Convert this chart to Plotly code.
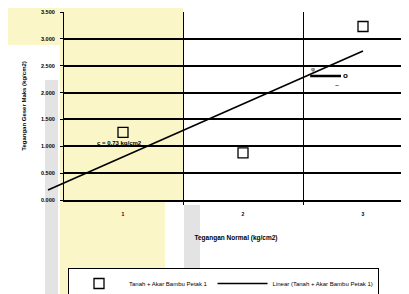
import numpy as np
import plotly.graph_objects as go

# ---- data ----
normal_stress = [1, 2, 3]                 # Tegangan Normal (kg/cm2)
shear_stress = [1.26, 0.876, 3.23]        # Tegangan Geser Maks (kg/cm2)
trend_x_range = [0.375, 3.0]              # trendline extent (backward forecast)
y_ticks = [0, 0.5, 1.0, 1.5, 2.0, 2.5, 3.0, 3.5]
x_ticks = [1, 2, 3]
x_bounds = [1.5, 2.5]
series_name = "Tanah + Akar Bambu Petak 1"

slope, intercept = np.polyfit(normal_stress, shear_stress, 1)
tx = np.array(trend_x_range)
ty = slope * tx + intercept

OFF = 8  # page body margin
W, H = 409 - OFF, 294 - OFF
PLOT_BOTTOM = 200 - OFF
L, R, T = 40 - OFF, 0, 12 - OFF
B = H - PLOT_BOTTOM
PW, PH = W - L - R, H - T - B
AX0 = 63 - OFF  # pixel x of the y axis
px_per_unit = 120.0


def xp(px):
    """reference-image pixel x -> paper fraction"""
    return (px - OFF - L) / PW


def yp(py):
    """reference-image pixel y -> paper fraction"""
    return (PLOT_BOTTOM - (py - OFF)) / PH


main_dom = [(AX0 - L) / PW, 1.0]
x_main_range = [0.5, 0.5 + (W - R - AX0) / px_per_unit]
x2_range = [0.5 - (AX0 - L) / px_per_unit, x_main_range[1]]

font = "Liberation Sans, Arial, sans-serif"

fig = go.Figure()

fig.add_trace(go.Scatter(
    x=normal_stress, y=shear_stress, mode="markers", name=series_name,
    marker=dict(symbol="square-open", size=10, color="black", line=dict(width=1.3)),
    xaxis="x", yaxis="y", cliponaxis=False,
))
fig.add_trace(go.Scatter(
    x=tx, y=ty, mode="lines", name="Linear (" + series_name + ")",
    line=dict(color="black", width=1.6),
    xaxis="x2", yaxis="y2",
))

shapes = []
yellow = "#fbf6c8"
gray = "#e3e3e3"
for (x0, y0, x1, y1, c) in [
    (0, 0, 60, 45, yellow),
    (60, 0, 165, 294, yellow),
    (165, 0, 183, 200, yellow),
    (45, 80, 58, 294, gray),
    (184, 205, 200, 294, gray),
]:
    shapes.append(dict(type="rect", xref="paper", yref="paper",
                       x0=xp(x0), x1=xp(x1), y0=yp(y1), y1=yp(y0),
                       fillcolor=c, line=dict(width=0), layer="below"))

annotations = [
    dict(x=0.97, y=1.06, xref="x", yref="y", text="c = 0.73 kg/cm2", showarrow=False,
         font=dict(family=font, size=6, color="black", weight="bold")),
    dict(x=2.56, y=2.31, xref="x", yref="y", ax=2.85, ay=2.31, axref="x", ayref="y",
         text="o", showarrow=True, arrowhead=0, arrowwidth=2.5, arrowcolor="black",
         standoff=0, font=dict(family=font, size=8, color="black", weight="bold")),
    dict(x=2.58, y=2.43, xref="x", yref="y", text="φ", showarrow=False,
         font=dict(family=font, size=6, color="black")),
    dict(x=2.78, y=2.14, xref="x", yref="y", text="~", showarrow=False,
         font=dict(family=font, size=7, color="black")),
]

fig.update_layout(
    width=W, height=H,
    margin=dict(l=L, r=R, t=T, b=B, autoexpand=False),
    paper_bgcolor="white", plot_bgcolor="rgba(0,0,0,0)",
    font=dict(family=font, color="black"),
    showlegend=True,
    legend=dict(orientation="h", x=xp(68), y=yp(268), xanchor="left", yanchor="top",
                bordercolor="black", borderwidth=1, bgcolor="white",
                itemwidth=50,
                font=dict(family=font, size=6, color="black")),
    xaxis=dict(domain=main_dom, range=x_main_range, tickvals=x_ticks,
               showgrid=False, zeroline=False, showline=True, linecolor="black", linewidth=2,
               ticks="", ticklabelstandoff=8,
               tickfont=dict(family=font, size=5, color="black", weight="bold"),
               minor=dict(tickmode="array", tickvals=x_bounds, showgrid=True,
                          gridcolor="black", gridwidth=1.2, ticks="outside", ticklen=3,
                          tickcolor="black"),
               title=dict(text="Tegangan Normal (kg/cm2)", standoff=19,
                          font=dict(family=font, size=6.5, color="black", weight="bold")),
               anchor="y", automargin=False),
    yaxis=dict(domain=[0, 1], range=[0, 3.5], tickvals=y_ticks[:-1],
               showgrid=True, gridcolor="black", gridwidth=2, zeroline=False,
               showline=False, showticklabels=False, anchor="x", automargin=False),
    xaxis2=dict(domain=[0, 1], range=x2_range, visible=False, anchor="y2"),
    yaxis2=dict(domain=[0, 1], range=[0, 3.5], tickvals=y_ticks, tickformat=".3f",
                showgrid=False, zeroline=False, showline=True, linecolor="black",
                linewidth=1.3, ticks="outside", ticklen=3, tickcolor="black",
                ticklabelstandoff=4,
                anchor="free", position=(AX0 - L) / PW, automargin=False,
                tickfont=dict(family=font, size=5.5, color="black", weight="bold"),
                title=dict(text="Tegangan Geser Maks (kg/cm2)", standoff=12,
                           font=dict(family=font, size=6, color="black", weight="bold"))),
    shapes=shapes,
    annotations=annotations,
)

fig.write_html("out.html")
